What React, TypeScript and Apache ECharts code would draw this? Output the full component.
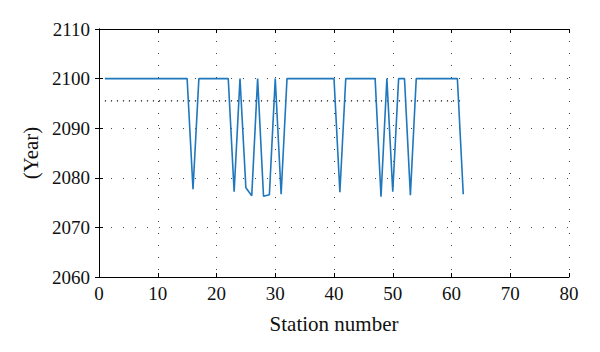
import React, { useEffect, useRef } from "react";
import * as echarts from "echarts";

const stations: number[] = Array.from({ length: 62 }, (_, i) => i + 1);
const years: number[] = [
  2100, 2100, 2100, 2100, 2100, 2100, 2100, 2100, 2100, 2100,
  2100, 2100, 2100, 2100, 2100, 2077.7, 2100, 2100, 2100, 2100,
  2100, 2100, 2077.2, 2100, 2078.0, 2076.4, 2100, 2076.3, 2076.6, 2100,
  2076.7, 2100, 2100, 2100, 2100, 2100, 2100, 2100, 2100, 2100,
  2077.1, 2100, 2100, 2100, 2100, 2100, 2100, 2076.2, 2100, 2077.2,
  2100, 2100, 2076.5, 2100, 2100, 2100, 2100, 2100, 2100, 2100,
  2100, 2076.7,
];
const xTicks = { min: 0, max: 80, interval: 10 };
const yTicks = { min: 2060, max: 2110, interval: 10 };

const FONT = "Liberation Serif";

export default function App() {
  const ref = useRef<HTMLDivElement>(null);
  useEffect(() => {
    if (!ref.current) return;
    const chart = echarts.init(ref.current, undefined, { renderer: "svg" });
    const mean = years.reduce((a, b) => a + b, 0) / years.length;
    const gridLine = { show: true, lineStyle: { color: "#444", type: [1, 11] as any, width: 1 } };
    const axisLine = { show: true, lineStyle: { color: "#000", width: 1 } };
    const tick = { show: true, inside: true, length: 4, lineStyle: { color: "#000" } };
    const labelStyle = { fontFamily: FONT, fontSize: 19, color: "#111" };
    const nameStyle = { fontFamily: FONT, fontSize: 21, color: "#111" };
    chart.setOption({
      animation: false,
      backgroundColor: "#fff",
      textStyle: { fontFamily: FONT },
      grid: { left: 99, right: 31, top: 29, bottom: 75 },
      xAxis: [
        {
          type: "value",
          ...xTicks,
          name: "Station number",
          nameLocation: "middle",
          nameGap: 36,
          nameTextStyle: nameStyle,
          axisLine,
          axisTick: tick,
          axisLabel: { ...labelStyle, margin: 7 },
          splitLine: gridLine,
        },
        {
          type: "value",
          position: "top",
          ...xTicks,
          axisLine,
          axisTick: tick,
          axisLabel: { show: false },
          splitLine: { show: false },
        },
      ],
      yAxis: [
        {
          type: "value",
          ...yTicks,
          name: "(Year)",
          nameLocation: "middle",
          nameGap: 57,
          nameTextStyle: nameStyle,
          axisLine,
          axisTick: tick,
          axisLabel: { ...labelStyle, margin: 9, formatter: (v: number) => String(v) },
          splitLine: gridLine,
        },
        {
          type: "value",
          position: "right",
          ...yTicks,
          axisLine,
          axisTick: tick,
          axisLabel: { show: false },
          splitLine: { show: false },
        },
      ],
      series: [
        {
          type: "line",
          data: stations.map((s, i) => [s, years[i]]),
          showSymbol: false,
          lineStyle: { color: "#1f77bd", width: 1.6 },
          itemStyle: { color: "#1f77bd" },
        },
        {
          type: "line",
          data: [
            [stations[0], mean],
            [stations[stations.length - 1], mean],
          ],
          showSymbol: false,
          lineStyle: { color: "#111", width: 1.2, type: [1.2, 4.8] as any },
          z: 1,
        },
      ],
    });
    return () => chart.dispose();
  }, []);
  return (
    <div
      ref={ref}
      style={{ position: "absolute", left: 0, top: 0, width: 600, height: 352 }}
    />
  );
}
